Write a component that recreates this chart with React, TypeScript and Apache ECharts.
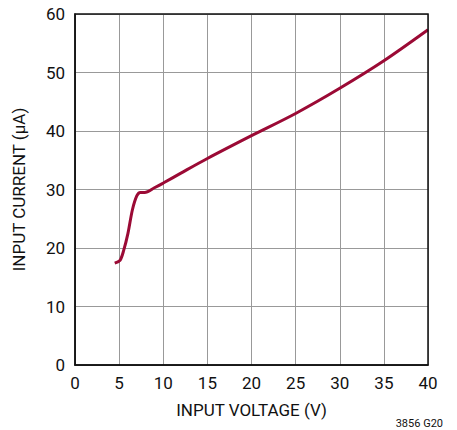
import React, { useEffect, useRef } from "react";
import * as echarts from "echarts";

const voltage = [4.5, 5.1, 5.5, 6.0, 6.5, 7.0, 7.4, 7.9, 9, 10, 12, 15, 20, 25, 30, 35, 40];
const current = [17.4, 17.9, 19.5, 22.5, 26.5, 28.9, 29.5, 29.5, 30.3, 31.1, 32.8, 35.3, 39.2, 43.0, 47.3, 52.0, 57.3];
const xTitle = "INPUT VOLTAGE (V)";
const yTitle = "INPUT CURRENT (µA)";
const note = "3856 G20";

const FONT = "'Liberation Sans Narrow', 'Roboto', sans-serif";

export default function App() {
  const ref = useRef<HTMLDivElement>(null);
  useEffect(() => {
    if (!ref.current) return;
    const chart = echarts.init(ref.current, null, { renderer: "svg" });
    chart.setOption({
      animation: false,
      backgroundColor: "#ffffff",
      grid: { left: 75, right: 29, top: 14, bottom: 65, show: false },
      xAxis: {
        type: "value",
        min: 0,
        max: 40,
        interval: 5,
        name: xTitle,
        nameLocation: "middle",
        nameGap: 36,
        nameTextStyle: { fontFamily: FONT, fontSize: 17, color: "#111" },
        axisLine: { show: true, lineStyle: { color: "#111", width: 1.5 } },
        axisTick: { show: false },
        axisLabel: { fontFamily: FONT, fontSize: 17, color: "#111", margin: 9 },
        splitLine: { show: true, lineStyle: { color: "#999", width: 1 } },
      },
      yAxis: {
        type: "value",
        min: 0,
        max: 60,
        interval: 10,
        name: yTitle,
        nameLocation: "middle",
        nameGap: 48,
        nameTextStyle: { fontFamily: FONT, fontSize: 17, color: "#111" },
        axisLine: { show: true, lineStyle: { color: "#111", width: 1.5 } },
        axisTick: { show: false },
        axisLabel: { fontFamily: FONT, fontSize: 17, color: "#111", margin: 10 },
        splitLine: { show: true, lineStyle: { color: "#999", width: 1 } },
      },
      graphic: [
        {
          type: "rect",
          shape: { x: 75, y: 14, width: 353, height: 351 },
          style: { fill: "none", stroke: "#111", lineWidth: 1.5 },
          z: 10,
        },
        {
          type: "text",
          right: 14,
          top: 418,
          style: { text: note, font: `11px ${FONT}`, fill: "#111" },
        },
      ],
      series: [
        {
          type: "line",
          data: voltage.map((v, i) => [v, current[i]]),
          smooth: 0.3,
          showSymbol: false,
          lineStyle: { color: "#9b0a35", width: 3 },
          z: 5,
        },
      ],
    });
    return () => chart.dispose();
  }, []);
  return (
    <div
      ref={ref}
      style={{ position: "fixed", left: 0, top: 0, width: 457, height: 430 }}
    />
  );
}
